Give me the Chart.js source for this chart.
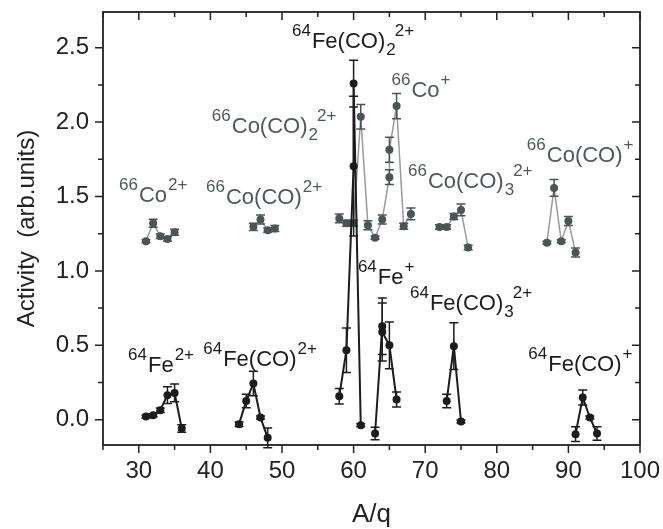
<!DOCTYPE html>
<html>
<head>
<meta charset="utf-8">
<script src="https://cdn.jsdelivr.net/npm/chart.js@4.4.1/dist/chart.umd.min.js"></script>
<style>
  html, body { margin: 0; padding: 0; background: #fff; }
  #wrap { width: 663px; height: 529px; }
</style>
</head>
<body>
<div id="wrap"><canvas id="activityChart" width="663" height="529"></canvas></div>
<script>
// 64Fe series (black): A/q, activity, error, and which peak group a point belongs to
const feMass     = [31, 32, 33, 34, 35, 36,   44, 45, 46, 47, 48,   58, 59, 60, 60, 61,   63, 64, 64, 65, 66,   73, 74, 75,   91, 92, 93, 94];
const feActivity = [0.021, 0.03, 0.064, 0.165, 0.18, -0.059,   -0.03, 0.126, 0.243, 0.015, -0.122,   0.158, 0.467, 1.704, 2.259, -0.037,   -0.093, 0.628, 0.59, 0.50, 0.136,   0.126, 0.494, -0.012,   -0.097, 0.149, 0.015, -0.093];
const feError    = [0.01, 0.01, 0.015, 0.056, 0.06, 0.025,   0.015, 0.045, 0.082, 0.01, 0.067,   0.052, 0.15, 0.47, 0.157, 0.01,   0.042, 0.19, 0.195, 0.157, 0.05,   0.045, 0.157, 0.01,   0.05, 0.05, 0.01, 0.045];
const feGroup    = [1, 1, 1, 1, 1, 1,   2, 2, 2, 2, 2,   3, 3, 3, 3, 3,   4, 4, 4, 4, 4,   5, 5, 5,   6, 6, 6, 6];

// 66Co series (grey)
const coMass     = [31, 32, 33, 34, 35,   46, 47, 48, 49,   58, 59, 60, 61, 62, 63, 64, 65, 65, 66, 67, 68,   72, 73, 74, 75, 76,   87, 88, 89, 90, 91];
const coActivity = [1.20, 1.32, 1.233, 1.215, 1.26,   1.296, 1.345, 1.274, 1.285,   1.353, 1.32, 1.32, 2.036, 1.307, 1.223, 1.345, 1.63, 1.815, 2.108, 1.30, 1.383,   1.295, 1.295, 1.365, 1.41, 1.157,   1.19, 1.558, 1.20, 1.336, 1.124];
const coError    = [0.01, 0.027, 0.015, 0.015, 0.02,   0.025, 0.03, 0.015, 0.02,   0.03, 0.02, 0.02, 0.083, 0.03, 0.01, 0.03, 0.05, 0.084, 0.085, 0.02, 0.04,   0.015, 0.015, 0.02, 0.04, 0.015,   0.01, 0.056, 0.01, 0.03, 0.03];
const coGroup    = [1, 1, 1, 1, 1,   2, 2, 2, 2,   3, 3, 3, 3, 3, 3, 3, 3, 3, 3, 3, 3,   4, 4, 4, 4, 4,   5, 5, 5, 5, 5];

// peak labels: isotope, formula, subscript, charge, anchor (A/q, activity) and series
const labelIso    = ['64', '66', '66', '66', '66', '66', '66', '64', '64', '64', '64', '64'];
const labelBody   = ['Fe(CO)', 'Co(CO)', 'Co', 'Co', 'Co(CO)', 'Co(CO)', 'Co(CO)', 'Fe', 'Fe(CO)', 'Fe', 'Fe(CO)', 'Fe(CO)'];
const labelSub    = ['2', '2', '', '', '', '3', '', '', '3', '', '', ''];
const labelCharge = ['2+', '2+', '+', '2+', '2+', '2+', '+', '+', '2+', '2+', '2+', '+'];
const labelX      = [51.4, 40.2, 65.3, 27.23, 39.39, 67.6, 84.2, 60.6, 67.88, 28.5, 39.0, 84.4];
const labelY      = [2.50, 1.93, 2.17, 1.464, 1.453, 1.555, 1.73, 0.915, 0.74, 0.321, 0.362, 0.328];
const labelSeries = ['Fe', 'Co', 'Co', 'Co', 'Co', 'Co', 'Co', 'Fe', 'Fe', 'Fe', 'Fe', 'Fe'];

const FONT = "'Liberation Sans', Arial, sans-serif";
const feColor = '#1c1c1c';
const coPoint = '#4b5558';
const coLine = '#9a9a9a';
const coText = '#4e595c';
const axisColor = '#222';

Chart.defaults.font.family = FONT;
Chart.defaults.color = '#222';

function toPoints(mass, act) {
  return mass.map((m, i) => ({ x: m, y: act[i] }));
}

// hide the line between two points of different peak groups
function groupSegment(group, color) {
  return {
    borderColor: ctx => group[ctx.p0DataIndex] === group[ctx.p1DataIndex] ? color : 'rgba(0,0,0,0)'
  };
}

// keep the plot box where the figure has it
function noPadding(s) {
  s.paddingTop = 0; s.paddingBottom = 0; s.paddingLeft = 0; s.paddingRight = 0;
}

const errorBars = {
  id: 'errorBars',
  afterDatasetDraw(chart, args) {
    const ds = chart.data.datasets[args.index];
    if (!ds.errors) return;
    const { ctx, scales: { x, y } } = chart;
    ctx.save();
    ctx.strokeStyle = ds.errorColor;
    ctx.lineWidth = 1.5;
    ds.data.forEach((p, i) => {
      const e = ds.errors[i];
      const px = x.getPixelForValue(p.x);
      const top = y.getPixelForValue(p.y + e);
      const bot = y.getPixelForValue(p.y - e);
      ctx.beginPath();
      ctx.moveTo(px, top); ctx.lineTo(px, bot);
      ctx.moveTo(px - 4.5, top); ctx.lineTo(px + 4.5, top);
      ctx.moveTo(px - 4.5, bot); ctx.lineTo(px + 4.5, bot);
      ctx.stroke();
    });
    ctx.restore();
  }
};

// frame with ticks: outward on left/bottom, inward on top/right
const frame = {
  id: 'frame',
  afterDraw(chart) {
    const { ctx, chartArea: a, scales: { x, y } } = chart;
    ctx.save();
    ctx.strokeStyle = axisColor;
    ctx.lineWidth = 1.8;
    ctx.strokeRect(a.left, a.top, a.right - a.left, a.bottom - a.top);
    ctx.lineWidth = 1.5;
    ctx.beginPath();
    for (let v = 25; v <= 100; v += 5) {
      const px = x.getPixelForValue(v);
      const len = v % 10 === 0 ? 8 : 5;
      ctx.moveTo(px, a.bottom); ctx.lineTo(px, a.bottom + len);
      ctx.moveTo(px, a.top); ctx.lineTo(px, a.top + len);
    }
    for (let v = 0; v <= 2.75; v += 0.25) {
      const py = y.getPixelForValue(v);
      if (py < a.top) continue;
      const len = Math.abs(v * 2 - Math.round(v * 2)) < 1e-6 ? 8 : 5;
      ctx.moveTo(a.left, py); ctx.lineTo(a.left - len, py);
      ctx.moveTo(a.right, py); ctx.lineTo(a.right - len, py);
    }
    ctx.stroke();
    ctx.restore();
  }
};

// ion names: superscript mass number, formula, then subscript and charge
const ionLabels = {
  id: 'ionLabels',
  afterDatasetsDraw(chart) {
    const { ctx, scales: { x, y } } = chart;
    const big = '22px ' + FONT, small = '17px ' + FONT;
    ctx.save();
    ctx.textAlign = 'left';
    ctx.textBaseline = 'alphabetic';
    for (let i = 0; i < labelBody.length; i++) {
      let px = x.getPixelForValue(labelX[i]);
      const py = y.getPixelForValue(labelY[i]);
      ctx.fillStyle = labelSeries[i] === 'Co' ? coText : feColor;
      ctx.font = small;
      ctx.fillText(labelIso[i], px, py - 12);
      px += ctx.measureText(labelIso[i]).width + 1;
      ctx.font = big;
      ctx.fillText(labelBody[i], px, py);
      px += ctx.measureText(labelBody[i]).width + 1;
      ctx.font = small;
      if (labelSub[i]) {
        ctx.fillText(labelSub[i], px, py + 7);
        px += ctx.measureText(labelSub[i]).width - 1;
      }
      ctx.fillText(labelCharge[i], px, py - 12);
    }
    ctx.restore();
  }
};

const ctx = document.getElementById('activityChart').getContext('2d');
new Chart(ctx, {
  type: 'line',
  data: {
    datasets: [
      {
        label: '64Fe',
        data: toPoints(feMass, feActivity),
        errors: feError,
        errorColor: feColor,
        borderColor: feColor,
        backgroundColor: feColor,
        borderWidth: 2,
        pointRadius: 4,
        pointBorderWidth: 0,
        segment: groupSegment(feGroup, feColor),
        order: 0
      },
      {
        label: '66Co',
        data: toPoints(coMass, coActivity),
        errors: coError,
        errorColor: coPoint,
        borderColor: coLine,
        backgroundColor: coPoint,
        borderWidth: 1.5,
        pointRadius: 4,
        pointBorderWidth: 0,
        segment: groupSegment(coGroup, coLine),
        order: 1
      }
    ]
  },
  options: {
    responsive: false,
    animation: false,
    devicePixelRatio: 1,
    layout: { padding: { top: 12, right: 23, left: 0, bottom: 0 } },
    plugins: { legend: { display: false }, tooltip: { enabled: false } },
    scales: {
      x: {
        type: 'linear',
        min: 25,
        max: 100,
        afterFit: s => { s.height = 84; noPadding(s); },
        grid: { display: false, drawTicks: false },
        border: { display: false },
        ticks: { stepSize: 10, includeBounds: false, padding: 12, color: '#222', font: { size: 24 } },
        title: { display: true, text: 'A/q', color: '#222', font: { size: 26, lineHeight: 1 }, padding: { top: 0, bottom: 1 } }
      },
      y: {
        min: -0.17,
        max: 2.74,
        afterFit: s => { s.width = 103; noPadding(s); },
        grid: { display: false, drawTicks: false },
        border: { display: false },
        ticks: { stepSize: 0.5, includeBounds: false, padding: 14, color: '#222', font: { size: 24 }, callback: v => v.toFixed(1) },
        title: { display: true, text: 'Activity  (arb.units)', color: '#222', font: { size: 24, lineHeight: 1 }, padding: { top: 15, bottom: 0 } }
      }
    }
  },
  plugins: [errorBars, frame, ionLabels]
});
</script>
</body>
</html>
